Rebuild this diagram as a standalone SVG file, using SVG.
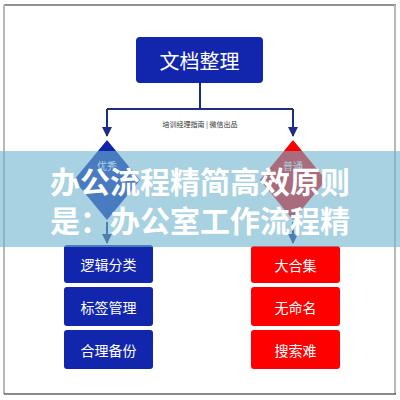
<svg xmlns="http://www.w3.org/2000/svg" width="400" height="400" viewBox="0 0 400 400">
<style>
text{font-family:"Noto Sans CJK SC","Noto Sans",sans-serif;}
.blue{fill:#1226ad;}
.red{fill:#ff0000;}
.lbl{fill:#ffffff;font-size:14px;text-anchor:middle;dominant-baseline:central;}
.conn{stroke:#1c2c86;stroke-width:2;fill:none;}
.ban{fill:#ffffff;font-size:30px;font-weight:bold;}
</style>
<defs>
<marker id="ah" viewBox="0 0 10 10" refX="9" refY="5" markerWidth="5" markerHeight="5" orient="auto">
<path d="M0,0 L10,5 L0,10 z" fill="#1c2c86"/>
</marker>
</defs>
<rect x="0" y="0" width="400" height="400" fill="#ffffff"/>
<g id="frame">
<line x1="4" y1="5" x2="396" y2="5" stroke="#1a2a2a" stroke-width="1.2"/>
<line x1="4" y1="5" x2="4" y2="394" stroke="#b8b8b8" stroke-width="2"/>
<line x1="395" y1="5" x2="395" y2="394" stroke="#b8b8b8" stroke-width="2"/>
<line x1="4" y1="394" x2="396" y2="394" stroke="#1a1a1a" stroke-width="1.2"/>
</g>
<g id="connectors">
<path class="conn" d="M200,83 V109 M107,109 H293"/>
<path class="conn" d="M107,109 V136" marker-end="url(#ah)"/>
<path class="conn" d="M293,109 V136" marker-end="url(#ah)"/>
<path class="conn" d="M107,222 V243" marker-end="url(#ah)"/>
<path class="conn" d="M293,222 V243" marker-end="url(#ah)"/>
</g>
<text x="200" y="127" font-size="7" fill="#333333" text-anchor="middle" font-family="'Noto Serif CJK SC','Noto Sans CJK SC',serif">培训经理指南 | 微信出品</text>
<g id="root">
<rect x="136" y="37" width="127" height="46" rx="4" class="blue"/>
<text x="199.5" y="60" class="lbl" style="font-size:20px">文档整理</text>
</g>
<g id="good">
<polygon points="107,140 140,180 107,220 74,180" class="blue"/>
<text x="107" y="165" class="lbl" style="font-size:10px">优秀</text>
</g>
<g id="normal">
<polygon points="293,140 326,180 293,220 260,180" class="red"/>
<text x="293" y="165" class="lbl" style="font-size:10px">普通</text>
</g>
<g id="l1"><rect x="64" y="245" width="89" height="38" rx="3" class="blue"/><text x="108.5" y="264" class="lbl">逻辑分类</text></g>
<g id="l2"><rect x="64" y="287" width="89" height="39" rx="3" class="blue"/><text x="108.5" y="306.5" class="lbl">标签管理</text></g>
<g id="l3"><rect x="64" y="330" width="89" height="39" rx="3" class="blue"/><text x="108.5" y="349.5" class="lbl">合理备份</text></g>
<g id="r1"><rect x="251" y="246" width="89" height="37" rx="3" class="red"/><text x="295.5" y="264.5" class="lbl">大合集</text></g>
<g id="r2"><rect x="251" y="287" width="89" height="39" rx="3" class="red"/><text x="295.5" y="306.5" class="lbl">无命名</text></g>
<g id="r3"><rect x="251" y="330" width="89" height="39" rx="3" class="red"/><text x="295.5" y="349.5" class="lbl">搜索难</text></g>
<g id="banner">
<rect x="0" y="151" width="400" height="96" fill="rgb(110,180,207)" fill-opacity="0.6"/>
<text x="50" y="193" class="ban" textLength="300">办公流程精简高效原则</text>
<text x="50" y="232" class="ban" textLength="300">是：办公室工作流程精</text>
</g>
</svg>
